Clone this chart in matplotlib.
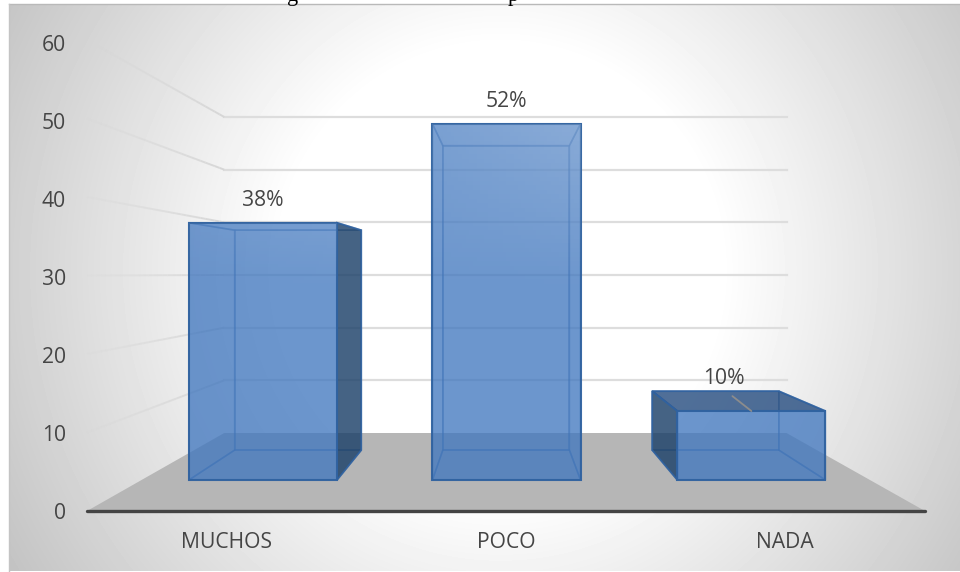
import numpy as np
import matplotlib
matplotlib.use('Agg')
from matplotlib import pyplot as plt
from matplotlib.patches import Polygon
from matplotlib.collections import LineCollection

# data
categories = ['MUCHOS', 'POCO', 'NADA']
values = [37.7, 52.2, 10.1]
percent_labels = ['38%', '52%', '10%']
y_ticks = [0, 10, 20, 30, 40, 50, 60]

plt.rcParams['font.family'] = ['Open Sans', 'DejaVu Sans']

# perspective of the 3D box, depth 1 is the front of the floor
VP_X, VP_V = 0.993, 30.2
BAR_FRONT, BAR_BACK, WALL = 0.869, 0.743, 0.671
BAR_W = 0.61
BAR_X = [0.0, 1.003, 2.012]
TEXT = '#454545'
FS = 15.2

def project(x, v, depth):
  return (VP_X + (x - VP_X) * depth, VP_V + (v - VP_V) * depth)

fig = plt.figure(figsize=(9.6, 5.72), dpi=100)
ax = fig.add_axes([0, 0, 1, 1])

# background of the chart area
px, py = np.meshgrid(np.arange(951) + 9, np.arange(567) + 4)
d = np.hypot((px - 500) / 490, (py - 270) / 500)
shade = np.clip(255 - 84 * (d - 0.45), 0, 255) / 255
ax.imshow(shade, cmap='gray', vmin=0, vmax=1, aspect='auto', zorder=0,
          extent=[9 / 960, 1, 1 - 571 / 572, 1 - 4 / 572], transform=ax.transAxes)
ax.plot([9 / 960, 1], [1 - 4 / 572] * 2, color='#b9b9b9', lw=1, transform=ax.transAxes, zorder=1)
ax.plot([9 / 960] * 2, [1 - 4 / 572, 1 - 571 / 572], color='#c4c4c4', lw=1, transform=ax.transAxes, zorder=1)

XLIM = (1 - 506 / 279.33, 1 + 454 / 279.33)
YLIM = (-61 / 7.85, 511 / 7.85)
ax.axis('off')

x0, x1 = -0.5, 2.5

# floor
ax.add_patch(Polygon([project(x0, 0, 1), project(x1, 0, 1), project(x1, 0, WALL), project(x0, 0, WALL)],
                     closed=True, fc='#b6b6b6', ec='none', zorder=2))

# gridlines, back wall and the fading part on the left wall
for t in y_ticks:
  if t > 0:
    a = project(x0, t, WALL)
    b = project(x1, t, WALL)
    ax.plot([a[0], b[0]], [a[1], b[1]], color='#dddddd', lw=1.6, zorder=3)
    depths = np.linspace(1, WALL, 30)
    pts = [project(x0, t, s) for s in depths]
    segs = [[pts[i], pts[i + 1]] for i in range(len(pts) - 1)]
    cols = [(0.84, 0.84, 0.84, 0.15 + 0.85 * i / len(segs)) for i in range(len(segs))]
    ax.add_collection(LineCollection(segs, colors=cols, linewidths=1.4, zorder=3))
  a = project(x0, t, 1)
  ax.annotate(str(t), xy=a, xytext=(-21, -0.05 * t), textcoords='offset pixels', ha='right', va='center_baseline',
              fontsize=FS, color=TEXT, zorder=9)

# bars
BLUE = (66 / 255, 120 / 255, 191 / 255)
DARK = (28 / 255, 63 / 255, 101 / 255)
TOP = (41 / 255, 78 / 255, 127 / 255)
EDGE = (48 / 255, 98 / 255, 160 / 255)
for i, val in enumerate(values):
  cx = BAR_X[i]
  l, r = cx - BAR_W / 2, cx + BAR_W / 2
  fa = [project(l, 0, BAR_FRONT), project(r, 0, BAR_FRONT), project(r, val, BAR_FRONT), project(l, val, BAR_FRONT)]
  ba = [project(l, 0, BAR_BACK), project(r, 0, BAR_BACK), project(r, val, BAR_BACK), project(l, val, BAR_BACK)]
  left_side = [fa[0], ba[0], ba[3], fa[3]]
  right_side = [fa[1], ba[1], ba[2], fa[2]]
  top = [fa[3], fa[2], ba[2], ba[3]]
  bottom = [fa[0], fa[1], ba[1], ba[0]]
  # back faces first
  ax.add_patch(Polygon(ba, closed=True, fc=BLUE + (0.2,), ec=EDGE + (0.4,), lw=1.2, zorder=4))
  ax.add_patch(Polygon(bottom, closed=True, fc=BLUE + (0.2,), ec=EDGE + (0.4,), lw=1.2, zorder=4))
  # faces seen from outside are darker
  for side, outside, col in [(left_side, l > VP_X + 0.1, DARK), (right_side, r < VP_X - 0.1, DARK), (top, val < VP_V, TOP)]:
    if outside:
      ax.add_patch(Polygon(side, closed=True, fc=col + (0.78,), ec=EDGE + (0.9,), lw=1.3, zorder=5))
    else:
      ax.add_patch(Polygon(side, closed=True, fc=BLUE + (0.2,), ec=EDGE + (0.4,), lw=1.2, zorder=4))
  front = Polygon(fa, closed=True, fc=BLUE + (0.72,), ec=EDGE + (0.95,), lw=1.5, zorder=6)
  ax.add_patch(front)

  # soft light on the upper right of the front face
  gx, gv = np.meshgrid(np.linspace(0, 1, 40), np.linspace(1, 0, 80))
  glow = np.ones((80, 40, 4))
  glow[..., 3] = np.clip((gv * val - 28) / 24, 0, 1) * (0.1 + 0.1 * gx)
  im = ax.imshow(glow, aspect='auto', zorder=6.5, extent=[fa[0][0], fa[1][0], fa[0][1], fa[2][1]])
  im.set_clip_path(front)

  # value labels, the small bar has its label pulled away with a leader
  anchor = project(cx, val, BAR_FRONT)
  if val > 20:
    ax.annotate(percent_labels[i], xy=anchor, xytext=(0, 25), textcoords='offset pixels', ha='center',
                va='center_baseline', fontsize=FS, color=TEXT, zorder=9)
  else:
    ax.annotate(percent_labels[i], xy=anchor, xytext=(-28, 35), textcoords='offset pixels', ha='center',
                va='center_baseline', fontsize=FS, color=TEXT, zorder=9,
                arrowprops=dict(arrowstyle='-', color='#8c8c8c', lw=1.3, shrinkA=5, shrinkB=0, relpos=(0.5, 0)))

# front axis line
a, b = project(x0, 0, 1), project(x1, 0, 1)
ax.plot([a[0], b[0]], [a[1], b[1]], color='#444444', lw=2.4, solid_capstyle='round', zorder=7)

for i, name in enumerate(categories):
  ax.annotate(name, xy=(i, 0), xytext=(0, -29), textcoords='offset pixels', ha='center', va='center_baseline',
              fontsize=FS, color=TEXT, zorder=9)

ax.set_xlim(*XLIM)
ax.set_ylim(*YLIM)

# what is left of the caption above the chart, cut by the top of the picture
for xpx, letter in [(293, 'g'), (513, 'p')]:
  fig.text(xpx / 960, 1 - 0.5 / 572, letter, family='Liberation Serif', fontsize=16, color='black', ha='center', va='baseline')

plt.savefig('out.png', dpi=100)
